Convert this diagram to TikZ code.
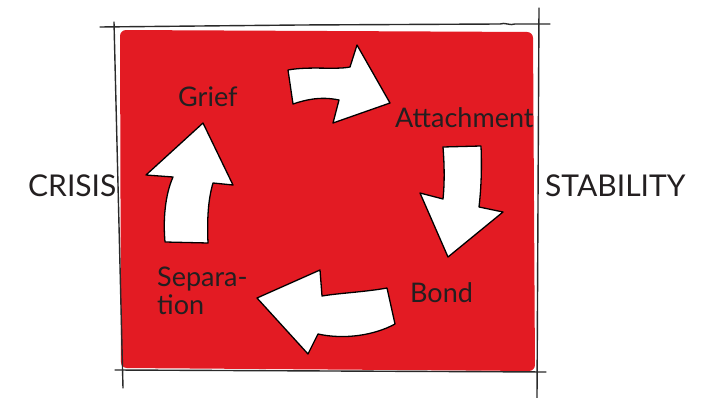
\documentclass[tikz,border=0pt]{standalone}
\usepackage{fontspec}
\setmainfont{Lato}
\definecolor{boxred}{HTML}{E31B23}
\definecolor{ink}{HTML}{231F20}
\definecolor{sketch}{HTML}{2A2A2A}
\tikzset{
  arr/.style={fill=white, draw=black, line width=1.3pt, line join=round},
  sk/.style={draw=sketch, line width=1.4pt, line cap=round},
  lab/.style={text=ink, font=\fontsize{27}{28}\selectfont, inner sep=0pt, anchor=base west},
  side/.style={text=ink, font=\fontsize{30}{32}\selectfont, inner sep=0pt, anchor=base west},
}
\begin{document}
\begin{tikzpicture}[x=1pt,y=-1pt]
\useasboundingbox (0,0) rectangle (702,398);
\fill[white] (0,0) rectangle (702,398);
% red panel
\fill[boxred, rounded corners=6pt] (120,30) -- (533,32) -- (535,371) -- (121,368) -- cycle;
% sketch frame lines
\draw[sk] (100,27) -- (300,25) -- (500,24) .. controls (505,22) and (510,26) .. (515,24) -- (550,24);
\draw[sk] (114,22) -- (123,388);
\draw[sk] (539,8) -- (537,398);
\draw[sk] (115,370) -- (546,372);
% arrows
\draw[arr] (288,70) .. controls (310,66) and (335,70) .. (350,67) -- (357,45) -- (390,103) -- (333,123) -- (339,100) .. controls (320,96) and (305,100) .. (293,104) -- cycle;
\draw[arr] (443,147) -- (481,146) .. controls (482,170) and (481,190) .. (479,207) -- (503,212) -- (448,257) -- (420,193) -- (443,199) .. controls (445,180) and (444,160) .. (443,147) -- cycle;
\draw[arr] (387,288) .. controls (365,292) and (340,293) .. (322,296) -- (320,270) -- (257,298) -- (308,354) -- (318,334) .. controls (345,340) and (375,335) .. (395,324) -- cycle;
\draw[arr] (165,242) .. controls (163,220) and (165,195) .. (173,177) -- (146,175) -- (203,123) -- (233,185) -- (213,183) .. controls (208,200) and (207,220) .. (208,243) -- cycle;
% labels
\node[lab] (grief) at (178,107) {Grief};
\node[lab] (attach) at (395,128) {Attachment};
\node[lab] (bond) at (410,303) {Bond};
\node[lab] (sep1) at (157,287) {Separa-};
\node[lab] (sep2) at (157,315) {tion};
\node[side] (crisis) at (28,197) {CRISIS};
\node[side] (stab) at (545,197) {STABILITY};
\end{tikzpicture}
\end{document}
